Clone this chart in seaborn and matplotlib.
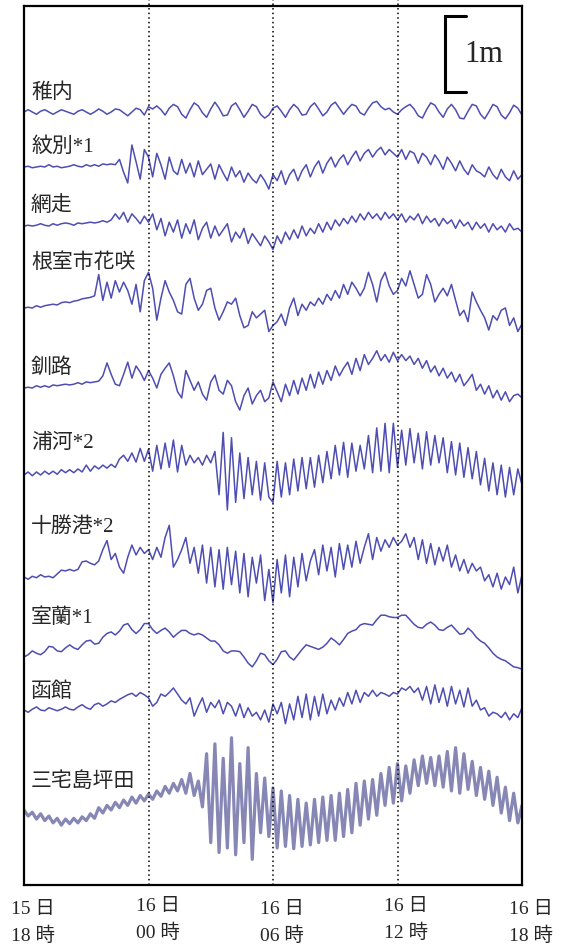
import numpy as np
import pandas as pd
import matplotlib
matplotlib.use("Agg")
import matplotlib.pyplot as plt
import seaborn as sns

# ---------------- data (sea level, cm, relative to each station's start level) ----------
stations = ["稚内", "紋別*1", "網走", "根室市花咲", "釧路", "浦河*2", "十勝港*2", "室蘭*1", "函館", "三宅島坪田"]

# sample times: hours after 15日18時, every 0.2 h
hours = np.round(np.arange(0, 24.0001, 0.2), 1)

wakkanai = [0, 3, 0, -3, 1, 3, 0, -3, 0, 3, 1, -1, -3, 1, 3, 0, -3, 0, 4, 1, -3, 0, 4, 3, -1, -5, 0, 5, 3, -4, 7,
            4, 8, 3, -4, 5, 10, 7, -3, -8, 3, 12, 8, -1, -7, 4, 13, 5, -5, -4, 8, 12, 3, -7, 1, 10, 7, -3, -8, -4, 5,
            8, 1, -7, 3, 10, 5, -4, -3, 7, 12, 4, -5, 0, 9, 13, 5, -3, 4, 10, 8, -1, -4, 5, 12, 14, 7, 3, 5, 0, -3,
            3, 7, 10, 4, -5, -8, 3, 12, 9, 0, -7, 4, 10, 3, -8, -9, 1, 10, 8, -3, -9, 0, 10, 7, -4, -9, -1, 9, 5, -4]
monbetsu = [0, 1, -1, 0, 1, 0, 3, 0, 1, -1, 0, 1, 3, 1, 0, 3, 1, 3, 1, 4, 3, 4, 3,
            10, -7, -21, 29, 7, -16, 23, 13,
            -13, 18, 3, -16, 13, -5, -10, 10, -8, 5, -13, 8, -10, -3, 4, -16, 3, -8, -18, 0, -13, -5, -20, -8, -16, -21, -10, -18, -29, -10,
            -18, -5, -23, -10, -3, -18, -5, 3, -13, 0, 8, -8, 5, 13, 0, 10, 16, 3, 13, 21, 8, 18, 23, 13, 21, 26, 16, 23, 18, 13,
            23, 10, 21, 18, 5, 18, 13, 3, 16, 8, -3, 13, 5, -5, 8, -3, -10, 3, -5, -8, -13, 0, -10, -16, -3, -13, -18, -5, -16, -10]
abashiri = [0, 1, 0, 1, 3, 1, 0, 3, 1, 3, 4, 3, 1, 4, 3, 4, 5, 4, 5, 7, 5,
            8, 16, 9, 18, 5, 16, 10, 3, 13, 5,
            16, -5, 10, -13, 5, -8, 8, -16, 3, -10, 8, -18, -3, 5, -16, 0, -13, -5, 3, -21, -8, -16, -3, -23, -10, -18, -26, -13, -21, -31,
            -13, -23, -8, -18, -5, -16, 0, -13, -3, -10, 3, -8, 5, -5, 8, 0, 10, 3, 13, 5, 16, 8, 18, 10, 16, 8, 18, 10, 16, 8,
            16, 5, 13, 8, 16, 3, 13, 5, 10, 0, 10, 3, 8, -3, 8, 0, 5, -5, 5, -3, 3, -8, 3, -5, 0, -8, 3, -5, -3, -8]
hanasaki = [0, 1, 0, 3, 1, 3, 4, 5, 4, 7, 8, 7, 9, 10, 12, 13, 14, 16,
            44, 10, 34, 13, 36, 21, 34, 23, 5, 31, -5, 36, 47,
            26, -16, 13, 36, 21, 10, -5, -8, 31, 39, 13, -3, 5, 23, 26, 0, -16, -5, 8, 5, 13, -10, -26, -23, -5, -13, -8, -3, -31, -23,
            -18, -8, -23, 0, 13, -10, 5, -3, 8, 3, 13, 5, 18, 10, 23, 13, 31, 18, 34, 26, 16, 26, 47, 31, 8, 36, 47, 29, 18, 23,
            39, 29, 49, 31, 13, 18, 44, 31, 8, 18, 26, 16, 31, 10, -10, -3, -18, 21, 8, -3, -13, -29, -10, -16, -3, 0, -23, -13, -31, -21]
kushiro = [0, 1, 0, 3, 1, 3, 1, 4, 3, 4, 5, 4, 5, 7, 5, 8, 7, 8, 9,
           16, 33, 18, 5, 3, 18, 34, 13, 29, 21, 10, 23,
           13, 0, 18, 26, 33, 16, -5, -13, 23, 10, -3, 8, -8, -16, 8, 17, -3, -8, 10, 3, -18, -29, -10, 0, -21, -10, -3, -18, -13, 8,
           -5, -18, 5, -10, 10, -8, 13, -3, 18, 0, 21, 5, 23, 10, 29, 16, 26, 34, 18, 39, 23, 44, 31, 39, 49, 36, 44, 34, 47, 36,
           44, 36, 42, 31, 39, 26, 36, 21, 29, 16, 26, 13, 21, 8, 18, 3, 10, 18, -3, 5, -8, 3, -13, -3, -16, -5, -18, -10, -8, -13]
urakawa = [0, 4, -1, 4, 0, 5, 1, 5, 1, 7, 3, 7, 3, 8, 4,
           13, 5, 12, 8, 13, 9, 14, 10,
           21, 26, 18, 29, 17, 35, 18, 34,
           5, 39, 8, 42, 10, 46, 4, 39, 13, 26, 16, 23, 13, 26, 16, 31, -26, 56, -46, 49, -36, 29, -31, 23, -26, 18, -33, 16, -29, -36,
           18, -29, 16, -26, 21, -21, 23, -18, 23, -16, 26, -10, 31, -5, 39, 0, 43, -3, 42, 5, 39, 8, 52, 3, 62, 5, 68, 3, 68, 10,
           59, 13, 61, 16, 55, 8, 57, 13, 52, 16, 49, 3, 44, 0, 42, -3, 36, -5, 31, -13, 22, -21, 16, -26, 13, -29, 10, -26, 8, -13]
tokachi = [0, -3, 1, -1, 3, 0, 1, -1, 4, 9, 8, 10, 8, 10, 20,
           21, 18, 16, 21, 36, 48, 23, 31, 13, 5, 26, 42, 29, 39, 31, 36,
           23, 39, 26, 52, 68, 13, 23, 36, 52, 18, 39, 5, 42, -8, 39, -13, 36, -16, 39, -10, 34, -21, 31, -26, 26, -8, 29, -31, 10, -34,
           23, -21, 29, -26, 26, -13, 31, -5, 21, 36, 3, 42, 8, 39, 0, 44, 10, 42, 13, 47, 18, 39, 57, 23, 52, 34, 49, 39, 52, 42,
           47, 57, 39, 52, 23, 49, 18, 44, 16, 39, 21, 42, 13, 29, 8, 23, 5, 18, 8, 13, -5, 3, -13, 5, -16, 0, -10, 13, -21, 3]
muroran = [0, 3, 8, 5, 3, 7, 14, 13, 8, 7, 12, 16, 12, 10, 16, 21, 22, 17, 18, 26, 31, 33, 29, 34, 42, 44, 36, 31, 36, 44, 44,
           36, 31, 35, 38, 33, 26, 31, 35, 35, 31, 29, 31, 29, 25, 21, 21, 16, 8, 5, 8, 8, 7, 0, -8, -13, -5, 5, 3, -5, -10,
           -3, 7, 8, 0, -4, 3, 10, 16, 14, 12, 10, 13, 18, 25, 21, 16, 23, 31, 34, 36, 42, 44, 43, 42, 49, 55, 55, 53, 52, 52,
           55, 55, 49, 43, 39, 38, 43, 46, 42, 36, 35, 39, 42, 36, 30, 31, 38, 33, 26, 21, 18, 12, 5, 0, -3, -5, -9, -13, -14, -16]
hakodate = [0, -3, 1, 4, 0, -1, 3, 1, -1, 1, 4, 1, 0, 4, 7, 3, 1, 7, 9, 5, 8, 12, 10, 14, 17, 20, 22, 18, 23, 20, 16,
            5, 10, 21, 18, 23, 29, 21, 13, 8, 16, -8, 5, 16, -3, 10, 3, 13, -5, 10, 5, -8, 8, -10, 3, -8, -3, -13, 0, -16, 8,
            -5, 10, -18, 8, -13, 18, -10, 21, -13, 18, -8, 21, -5, 13, 0, 16, 5, 23, 8, 26, 10, 23, 18, 26, 18, 23, 21, 18, 23, 21,
            29, 26, 31, 23, 29, 13, 31, 8, 33, 10, 29, 5, 31, 8, 26, 4, 29, 5, 13, 0, 3, -8, -3, -5, -10, -3, -13, -5, -10, 3]
miyake = [4, -4, 1, -8, -1, -10, -4, -13, -7, -16, -8, -14, -7, -13, -5, -10, -1, -7, 7, 0, 10, 4, 14, 7, 17, 10, 21, 13, 23, 16, 25,
          18, 29, 22, 35, 26, 39, 29, 44, 26, 52, 23, 42,
          8, 78, -39, 91, -52, 72, -46, 99, -55, 65, -39, 86, -61, 52, -26, 46, -31, 33,
          -46, 29, -44, 23, -47, 18, -44, 13, -42, 18, -39, 21, -36, 23, -36, 26, -31, 31, -26, 39, -16, 42, -8, 44, -3, 52, 10, 60, 13, 65,
          16, 62, 26, 70, 36, 75, 39, 73, 36, 75, 34, 81, 29, 86, 26, 78, 31, 68, 23, 60, 18, 55, 10, 47, 0, 34, -10, 26, -13, 10]

series = [wakkanai, monbetsu, abashiri, hanasaki, kushiro, urakawa, tokachi, muroran, hakodate, miyake]

tick_hours = [0, 6, 12, 18, 24]
tick_days = ["15 日", "16 日", "16 日", "16 日", "16 日"]
tick_times = ["18 時", "00 時", "06 時", "12 時", "18 時"]
scale_label = "1m"

# ---------------- layout ----------------
W, H = 568, 946
ax_left, ax_right, ax_top, ax_bot = 24, 522, 6, 885
cm_per_px = 100 / 76.0
base_px = [112, 167, 226, 308, 388, 475, 577, 657, 710, 813]     # vertical slot of each trace
label_px = [93, 147, 206, 263, 368, 443, 527, 618, 692, 782]
ymin = -(ax_bot - ax_top) * cm_per_px

sns.set_style("white")
plt.rcParams["font.family"] = ["Liberation Serif", "Noto Sans CJK JP", "DejaVu Sans"]

fig = plt.figure(figsize=(W / 100, H / 100), dpi=100)
ax = fig.add_axes([ax_left / W, 1 - ax_bot / H, (ax_right - ax_left) / W, (ax_bot - ax_top) / H])

frames = []
for name, vals, bp in zip(stations, series, base_px):
    off = -(bp - ax_top) * cm_per_px
    frames.append(pd.DataFrame({"hour": hours, "level": vals, "station": name,
                                "y": np.asarray(vals, float) + off}))
df = pd.concat(frames, ignore_index=True)

for name in stations:
    sub = df[df["station"] == name]
    if name == "三宅島坪田":
        sns.lineplot(data=sub, x="hour", y="y", ax=ax, color="#7272aa", lw=2.3,
                     alpha=0.85, estimator=None, sort=False)
    else:
        sns.lineplot(data=sub, x="hour", y="y", ax=ax, color="#3a3aaa", lw=1.1,
                     alpha=0.9, estimator=None, sort=False)

for h in tick_hours[1:-1]:
    ax.axvline(h, ymin=0, ymax=1.008, color="black", lw=1.1, ls=(0, (1, 2)), clip_on=False)

ax.set_xlim(0, 24)
ax.set_ylim(ymin, 0)
ax.set_xticks([])
ax.set_yticks([])
ax.set_xlabel("")
ax.set_ylabel("")
for s in ax.spines.values():
    s.set_visible(True)
    s.set_color("black")
    s.set_linewidth(1.6)

# scale bar (1 m) in data units
hpp = 24 / (ax_right - ax_left)
bx0 = (445 - ax_left) * hpp
bx1 = (466 - ax_left) * hpp
by0 = -(16 - ax_top) * cm_per_px
ax.plot([bx1, bx0, bx0, bx1], [by0, by0, by0 - 100, by0 - 100], color="black", lw=2.2,
        solid_joinstyle="miter")
ax.text((484 - ax_left) * hpp, by0 - 50, scale_label, fontsize=22, ha="center", va="center",
        family=["Liberation Serif"])

# station labels
for name, ly in zip(stations, label_px):
    fig.text(31 / W, 1 - ly / H, name, fontsize=15, ha="left", va="center",
             family=["Liberation Serif", "Noto Sans CJK JP"])

# time labels below the frame
for i, (h, d, t) in enumerate(zip(tick_hours, tick_days, tick_times)):
    xpx = ax_left + h / hpp - 13
    lift = 3 if i in (1, 3) else 0
    fig.text(xpx / W, 1 - (909 - lift) / H, d, fontsize=14, ha="left", va="center",
             family=["Liberation Serif", "Noto Sans CJK JP"])
    fig.text(xpx / W, 1 - (936 - lift) / H, t, fontsize=14, ha="left", va="center",
             family=["Liberation Serif", "Noto Sans CJK JP"])

fig.savefig("out.png", dpi=100, facecolor="white")
